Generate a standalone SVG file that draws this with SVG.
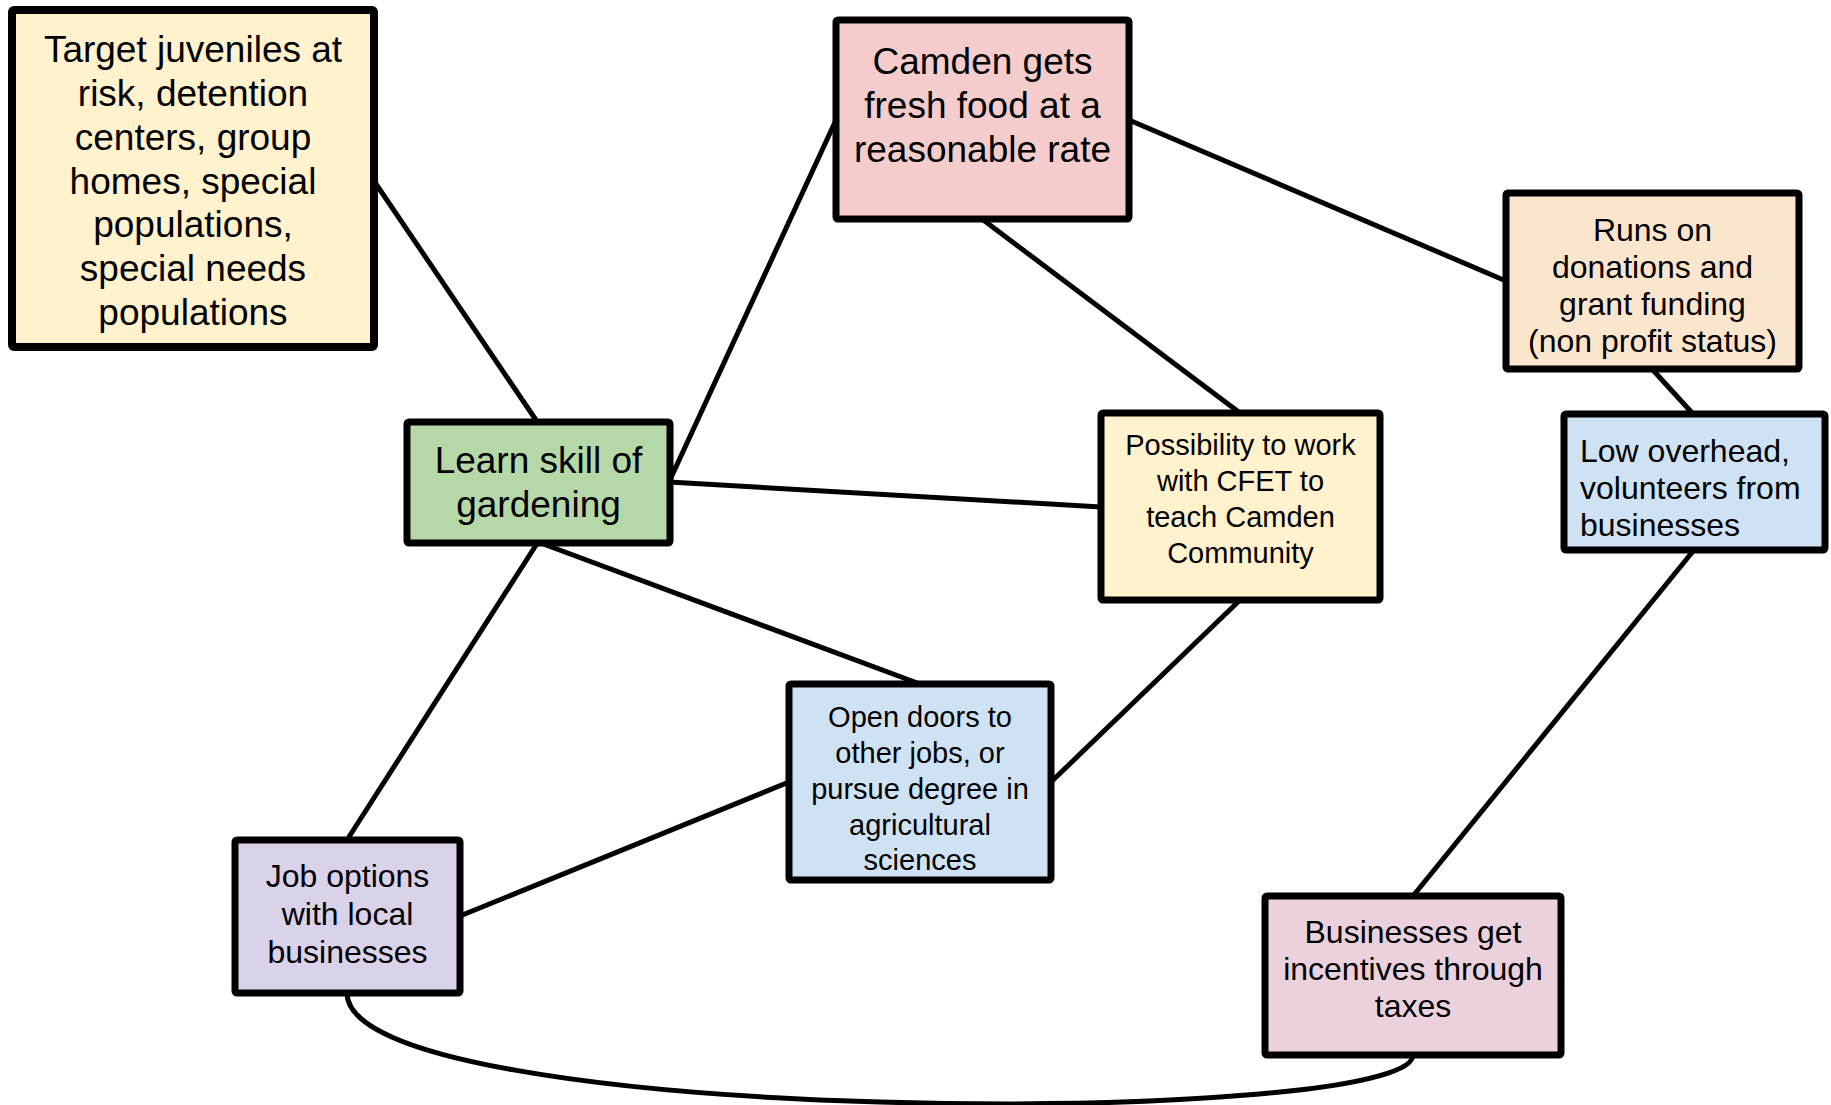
<svg xmlns="http://www.w3.org/2000/svg" width="1831" height="1105" viewBox="0 0 1831 1105">
<style>
  .box { stroke: #000; stroke-width: 7; stroke-linejoin: round; }
  .conn { stroke: #000; stroke-width: 5; fill: none; stroke-linecap: round; }
  text { font-family: "Liberation Sans", Arial, sans-serif; fill: #000; }
  .c { text-anchor: middle; }
  .f37 { font-size: 37px; }
  .f32 { font-size: 32px; }
  .f29 { font-size: 29px; }
</style>
<rect width="1831" height="1105" fill="#ffffff"/>
<g id="connectors">
  <line class="conn" x1="374" y1="181" x2="538" y2="423"/>
  <line class="conn" x1="669" y1="482" x2="836" y2="120"/>
  <line class="conn" x1="669" y1="482" x2="1101" y2="507"/>
  <line class="conn" x1="1129" y1="120" x2="1506" y2="281"/>
  <line class="conn" x1="982" y1="219" x2="1240" y2="413"/>
  <line class="conn" x1="1652" y1="369" x2="1694" y2="415"/>
  <line class="conn" x1="1694" y1="550" x2="1413" y2="896"/>
  <line class="conn" x1="538" y1="542" x2="920" y2="684"/>
  <line class="conn" x1="538" y1="542" x2="347" y2="840"/>
  <line class="conn" x1="1240" y1="600" x2="1051" y2="782"/>
  <line class="conn" x1="789" y1="782" x2="460" y2="916"/>
  <path class="conn" d="M347,993 C347,1128 1413,1128 1413,1055"/>
</g>
<g id="node-target">
  <rect class="box" x="12" y="10" width="362" height="337" rx="2" fill="#fff2cc" style="stroke-width:8"/>
  <text class="c f37" x="193" y="62">Target juveniles at</text>
  <text class="c f37" x="193" y="106">risk, detention</text>
  <text class="c f37" x="193" y="150">centers, group</text>
  <text class="c f37" x="193" y="194">homes, special</text>
  <text class="c f37" x="193" y="237">populations,</text>
  <text class="c f37" x="193" y="281">special needs</text>
  <text class="c f37" x="193" y="325">populations</text>
</g>
<g id="node-camden">
  <rect class="box" x="836" y="20" width="293" height="199" rx="2" fill="#f4cccc"/>
  <text class="c f37" x="982.5" y="74">Camden gets</text>
  <text class="c f37" x="982.5" y="118">fresh food at a</text>
  <text class="c f37" x="982.5" y="162">reasonable rate</text>
</g>
<g id="node-runs">
  <rect class="box" x="1506" y="193" width="293" height="176" rx="2" fill="#fce5cd"/>
  <text class="c f32" x="1652.5" y="241">Runs on</text>
  <text class="c f32" x="1652.5" y="278">donations and</text>
  <text class="c f32" x="1652.5" y="315">grant funding</text>
  <text class="c f32" x="1652.5" y="352">(non profit status)</text>
</g>
<g id="node-learn">
  <rect class="box" x="407" y="422" width="263" height="121" rx="2" fill="#b6d7a8"/>
  <text class="c f37" x="538.5" y="473">Learn skill of</text>
  <text class="c f37" x="538.5" y="517">gardening</text>
</g>
<g id="node-possibility">
  <rect class="box" x="1101" y="413" width="279" height="187" rx="2" fill="#fff2cc"/>
  <text class="c f29" x="1240.5" y="455">Possibility to work</text>
  <text class="c f29" x="1240.5" y="491">with CFET to</text>
  <text class="c f29" x="1240.5" y="527">teach Camden</text>
  <text class="c f29" x="1240.5" y="563">Community</text>
</g>
<g id="node-lowoverhead">
  <rect class="box" x="1564" y="414" width="261" height="136" rx="2" fill="#cfe2f3"/>
  <text class="f32" x="1580" y="462">Low overhead,</text>
  <text class="f32" x="1580" y="499">volunteers from</text>
  <text class="f32" x="1580" y="536">businesses</text>
</g>
<g id="node-opendoors">
  <rect class="box" x="789" y="684" width="262" height="196" rx="2" fill="#cfe2f3"/>
  <text class="c f29" x="920" y="727">Open doors to</text>
  <text class="c f29" x="920" y="763">other jobs, or</text>
  <text class="c f29" x="920" y="799">pursue degree in</text>
  <text class="c f29" x="920" y="835">agricultural</text>
  <text class="c f29" x="920" y="870">sciences</text>
</g>
<g id="node-job">
  <rect class="box" x="235" y="840" width="225" height="153" rx="2" fill="#d9d2e9"/>
  <text class="c f32" x="347.5" y="887">Job options</text>
  <text class="c f32" x="347.5" y="925">with local</text>
  <text class="c f32" x="347.5" y="963">businesses</text>
</g>
<g id="node-businesses">
  <rect class="box" x="1265" y="896" width="296" height="159" rx="2" fill="#ead1dc"/>
  <text class="c f32" x="1413" y="943">Businesses get</text>
  <text class="c f32" x="1413" y="980">incentives through</text>
  <text class="c f32" x="1413" y="1017">taxes</text>
</g>
</svg>
